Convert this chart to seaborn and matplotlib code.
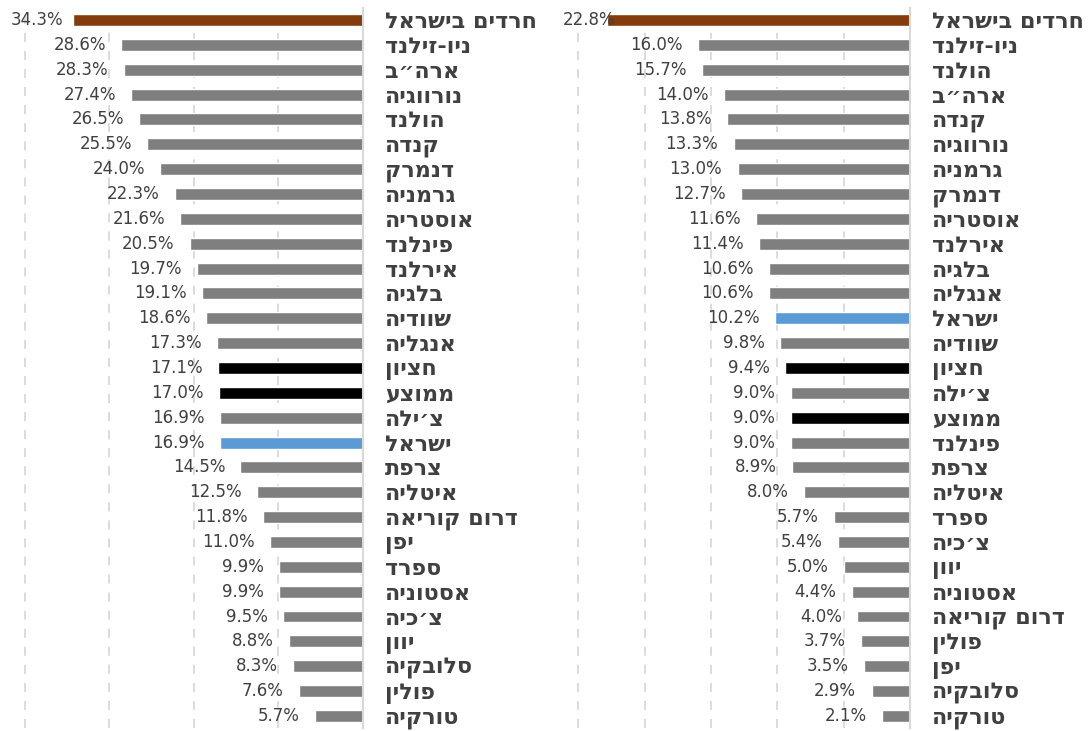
import matplotlib
matplotlib.use("Agg")
import matplotlib.pyplot as plt
import numpy as np
import pandas as pd
import seaborn as sns

# left panel
left_names = ["חרדים בישראל", "ניו-זילנד", "ארה״ב", "נורווגיה", "הולנד", "קנדה",
              "דנמרק", "גרמניה", "אוסטריה", "פינלנד", "אירלנד", "בלגיה", "שוודיה",
              "אנגליה", "חציון", "ממוצע", "צ׳ילה", "ישראל", "צרפת", "איטליה",
              "דרום קוריאה", "יפן", "ספרד", "אסטוניה", "צ׳כיה", "יוון", "סלובקיה",
              "פולין", "טורקיה"]
left_values = [34.3, 28.6, 28.3, 27.4, 26.5, 25.5, 24.0, 22.3, 21.6, 20.5, 19.7,
               19.1, 18.6, 17.3, 17.1, 17.0, 16.9, 16.9, 14.5, 12.5, 11.8, 11.0,
               9.9, 9.9, 9.5, 8.8, 8.3, 7.6, 5.7]

# right panel
right_names = ["חרדים בישראל", "ניו-זילנד", "הולנד", "ארה״ב", "קנדה", "נורווגיה",
               "גרמניה", "דנמרק", "אוסטריה", "אירלנד", "בלגיה", "אנגליה", "ישראל",
               "שוודיה", "חציון", "צ׳ילה", "ממוצע", "פינלנד", "צרפת", "איטליה",
               "ספרד", "צ׳כיה", "יוון", "אסטוניה", "דרום קוריאה", "פולין", "יפן",
               "סלובקיה", "טורקיה"]
right_values = [22.8, 16.0, 15.7, 14.0, 13.8, 13.3, 13.0, 12.7, 11.6, 11.4, 10.6,
                10.6, 10.2, 9.8, 9.4, 9.0, 9.0, 9.0, 8.9, 8.0, 5.7, 5.4, 5.0, 4.4,
                4.0, 3.7, 3.5, 2.9, 2.1]

highlight = {"חרדים בישראל": "#843c0c", "ישראל": "#5b9bd5",
             "חציון": "#000000", "ממוצע": "#000000"}
base_color = "#7f7f7f"
text_color = "#404040"
grid_color = "#d9d9d9"

sns.set_style("white")
plt.rcParams['font.family'] = ['DejaVu Sans', 'Liberation Sans']


def rtl(s):
    # matplotlib has no bidi support, so write Hebrew in visual order
    return s[::-1]


def draw(ax, names, values, xmax, step, first_off):
    df = pd.DataFrame({"name": [rtl(n) for n in names], "value": values})
    pal = {rtl(n): highlight.get(n, base_color) for n in names}
    sns.barplot(data=df, x="value", y="name", hue="name", palette=pal,
                legend=False, width=0.48, saturation=1, orient="h", ax=ax)
    ax.set_xlim(xmax, 0)
    ax.set_ylim(len(names) - 0.5, -0.5)
    ax.set_xticks(np.arange(step, xmax, step))
    ax.grid(axis="x", color=grid_color, linestyle=(0, (5, 5)), linewidth=1.3)
    ax.set_axisbelow(True)
    ax.tick_params(axis="x", length=0, labelbottom=False)
    ax.set_xlabel("")
    ax.set_ylabel("")
    ax.yaxis.tick_right()
    ax.tick_params(axis="y", length=0, pad=16)
    for lbl in ax.get_yticklabels():
        lbl.set_fontsize(16)
        lbl.set_fontweight("bold")
        lbl.set_color(text_color)
    for sp in ["left", "top", "bottom"]:
        ax.spines[sp].set_visible(False)
    ax.spines["right"].set_color(grid_color)
    ax.spines["right"].set_linewidth(1.5)
    for i, v in enumerate(values):
        off = first_off if i == 0 else -11
        ax.annotate(f"{v:.1f}%", xy=(v, i), xytext=(off, 0),
                    textcoords="offset points", ha="right", va="center",
                    fontsize=12, color=text_color)


fig = plt.figure(figsize=(10.92, 7.31), dpi=100)
ax_l = fig.add_axes([16.5 / 1092, 0.0036, (363 - 16.5) / 1092, 0.986])
ax_r = fig.add_axes([565 / 1092, 0.0036, 345 / 1092, 0.986])

draw(ax_l, left_names, left_values, 41, 10, first_off=-7)
draw(ax_r, right_names, right_values, 26, 5, first_off=6)

fig.savefig("out.png", dpi=100)
